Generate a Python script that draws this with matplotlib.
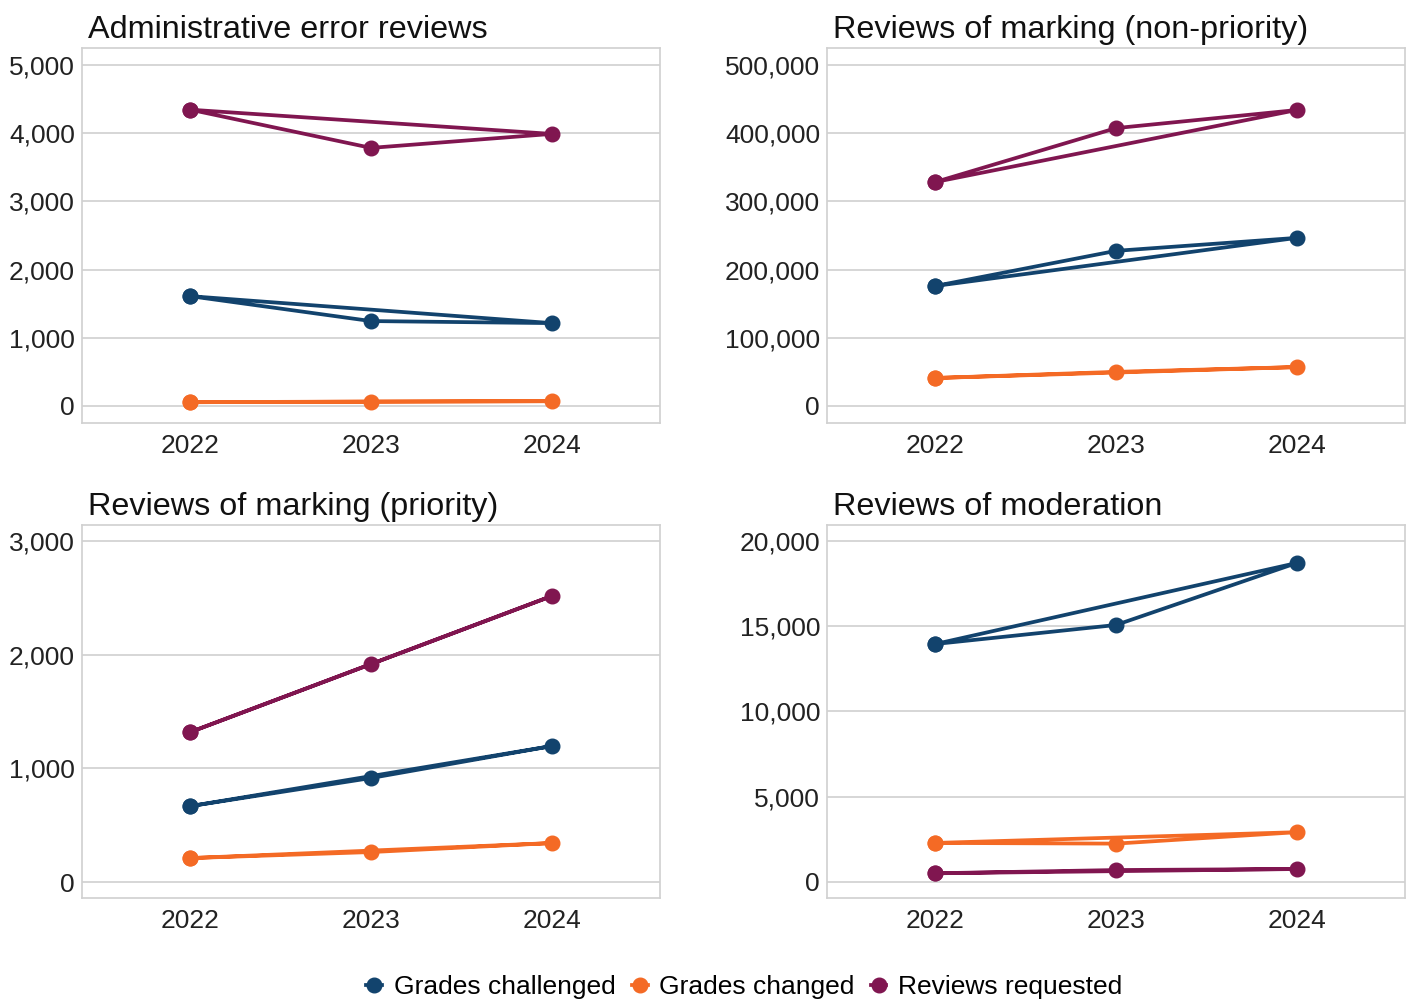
import matplotlib
matplotlib.use("Agg")
import matplotlib.pyplot as plt
from matplotlib.lines import Line2D
from matplotlib.ticker import FuncFormatter

plt.rcParams['font.family'] = ['Liberation Sans', 'DejaVu Sans']

# Years in the order the source data plots them (path returns to first year)
years = [2022, 2023, 2024, 2022]
year_ticks = [2022, 2023, 2024]

series_names = ["Grades challenged", "Grades changed", "Reviews requested"]
colors = ["#12436D", "#F46A25", "#801650"]

titles = ["Administrative error reviews", "Reviews of marking (non-priority)",
          "Reviews of marking (priority)", "Reviews of moderation"]

admin_challenged = [1610, 1245, 1215, 1610]
admin_changed = [55, 65, 70, 55]
admin_requested = [4345, 3785, 3990, 4345]

np_challenged = [176000, 227500, 246500, 176000]
np_changed = [41000, 50000, 57000, 41000]
np_requested = [328500, 407500, 434000, 328500]

pr_challenged = [668, 915, 1196, 668]
pr_changed = [211, 264, 343, 211]
pr_requested = [1319, 1917, 2515, 1319]

mod_challenged = [13960, 15075, 18710, 13960]
mod_changed = [2290, 2250, 2920, 2290]
mod_requested = [510, 700, 760, 510]

panels = [
    (admin_challenged, admin_changed, admin_requested),
    (np_challenged, np_changed, np_requested),
    (pr_challenged, pr_changed, pr_requested),
    (mod_challenged, mod_changed, mod_requested),
]
yticks = [
    [0, 1000, 2000, 3000, 4000, 5000],
    [0, 100000, 200000, 300000, 400000, 500000],
    [0, 1000, 2000, 3000],
    [0, 5000, 10000, 15000, 20000],
]
ylims = [(-250, 5250), (-25000, 525000), (-140, 3140), (-940, 20940)]

W, H = 1410, 999
fig = plt.figure(figsize=(W / 100, H / 100), dpi=100)
boxes = [
    (82, 48, 660, 423),
    (827, 48, 1405, 423),
    (82, 525, 660, 898),
    (827, 525, 1405, 898),
]

grid_c = "#D0D0D0"
for i, (l, t, r, b) in enumerate(boxes):
    ax = fig.add_axes([l / W, 1 - b / H, (r - l) / W, (b - t) / H])
    for vals, c in zip(panels[i], colors):
        ax.plot(years, vals, color=c, lw=2.7, marker='o', markersize=10.5,
                solid_joinstyle='round', zorder=3)
    ax.set_xlim(2021.4, 2024.6)
    ax.set_ylim(*ylims[i])
    ax.set_xticks(year_ticks)
    ax.set_xticklabels([str(y) for y in year_ticks])
    ax.set_yticks(yticks[i])
    ax.yaxis.set_major_formatter(FuncFormatter(lambda v, p: f"{int(v):,}"))
    ax.grid(axis='y', color=grid_c, lw=1.2)
    ax.grid(axis='x', visible=False)
    ax.set_axisbelow(True)
    for s in ax.spines.values():
        s.set_color(grid_c)
        s.set_linewidth(1.2)
    ax.tick_params(axis='both', length=0, labelsize=19, colors="#222222", pad=5)
    ax.tick_params(axis='x', pad=8)
    ax.set_title(titles[i], loc='left', fontsize=23.3, color="#111111", pad=7, x=0.01)

handles = [Line2D([0], [0], color=c, lw=2.7, marker='o', markersize=10.5)
           for c in colors]
fig.legend(handles, series_names, loc='center', bbox_to_anchor=(0.528, 1 - 987 / H),
           ncol=3, frameon=False, fontsize=19, handlelength=0.6,
           handletextpad=0.45, columnspacing=0.6, borderaxespad=0)

fig.savefig("out.png", dpi=100, facecolor="white")
